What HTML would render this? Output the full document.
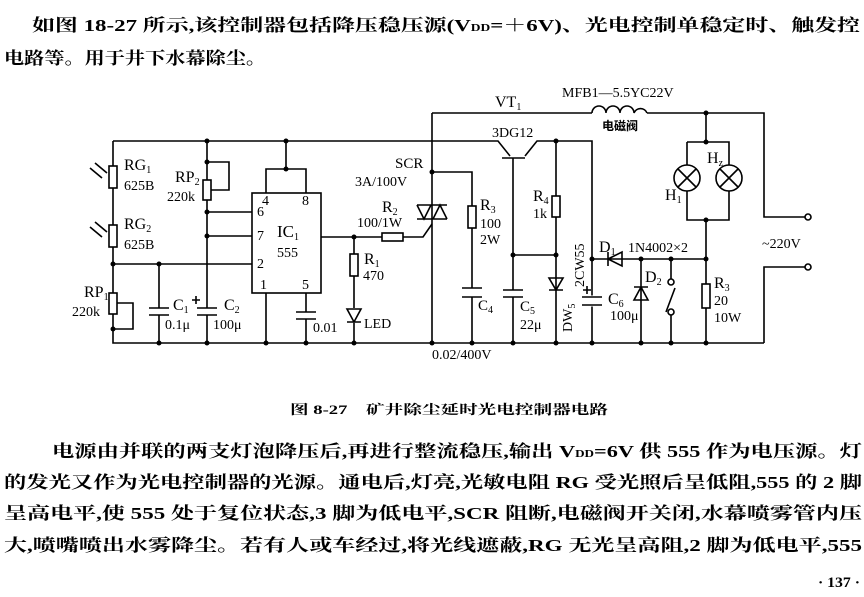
<!DOCTYPE html>
<html><head><meta charset="utf-8"><style>
html,body{margin:0;padding:0;background:#fff}
svg{display:block}
.t{font-family:"Liberation Serif","Noto Serif CJK SC","Noto Sans CJK SC",serif;font-weight:bold;fill:#000}
.l{font-family:"Liberation Serif",serif;font-size:14px;fill:#000}
</style></head><body>
<svg width="864" height="597" viewBox="0 0 864 597" xmlns="http://www.w3.org/2000/svg">
<rect width="864" height="597" fill="#fff"/>
<text class="t" x="32" y="31" font-size="17" textLength="828" lengthAdjust="spacingAndGlyphs">如图 18-27 所示,该控制器包括降压稳压源(V<tspan font-size="10">DD</tspan>=＋6V)、光电控制单稳定时、触发控</text>
<text class="t" x="4" y="64" font-size="17" textLength="262" lengthAdjust="spacingAndGlyphs">电路等。用于井下水幕除尘。</text>
<text class="t" x="290" y="414" font-size="13" textLength="318" lengthAdjust="spacingAndGlyphs">图 8-27　矿井除尘延时光电控制器电路</text>
<text class="t" x="52" y="457" font-size="17" textLength="810" lengthAdjust="spacingAndGlyphs">电源由并联的两支灯泡降压后,再进行整流稳压,输出 V<tspan font-size="10">DD</tspan>=6V 供 555 作为电压源。灯</text>
<text class="t" x="4" y="488" font-size="17" textLength="858" lengthAdjust="spacingAndGlyphs">的发光又作为光电控制器的光源。通电后,灯亮,光敏电阻 RG 受光照后呈低阻,555 的 2 脚</text>
<text class="t" x="4" y="519" font-size="17" textLength="858" lengthAdjust="spacingAndGlyphs">呈高电平,使 555 处于复位状态,3 脚为低电平,SCR 阻断,电磁阀开关闭,水幕喷雾管内压</text>
<text class="t" x="4" y="551" font-size="17" textLength="858" lengthAdjust="spacingAndGlyphs">大,喷嘴喷出水雾降尘。若有人或车经过,将光线遮蔽,RG 无光呈高阻,2 脚为低电平,555</text>
<text class="t" x="818" y="587" font-size="15" textLength="42" lengthAdjust="spacingAndGlyphs">· 137 ·</text>

<g stroke="#000" stroke-width="1.6" fill="none">
<path d="M113,141 H498 L510,156 M525,156 L537,141 H592 V343 M113,141 V343 H764"/>
<path d="M432,113 H592 M647,113 H764 V217 H805 M764,343 V267 H805"/>
<path d="M592,113 a7,7 0 0 1 14,0 a7,7 0 0 1 14,0 a7,7 0 0 1 14,0 a7,7 0 0 1 13,0"/>
<rect x="109" y="166" width="8" height="22" fill="#fff"/>
<rect x="109" y="225" width="8" height="22" fill="#fff"/>
<rect x="109" y="293" width="8" height="21" fill="#fff"/>
<path d="M117,303 H133 V329 H113"/>
<path d="M90,168 l12,10 M95,163 l12,10 M90,227 l12,10 M95,222 l12,10"/>
<path d="M113,264 H252 M159,264 V308 M159,315 V343 M149,308 H169 M149,315 H169"/>
<path d="M207,141 V308 M207,315 V343 M197,308 H217 M197,315 H217 M192,300 h8 M196,296 v8"/>
<rect x="203" y="180" width="8" height="20" fill="#fff"/>
<path d="M207,162 H229 V190 H211"/>
<path d="M207,212 H252 M207,236 H252"/>
<rect x="252" y="193" width="69" height="100"/>
<path d="M266,193 V169 H306 V193 M286,169 V141"/>
<path d="M266,293 V343 M306,293 V312 M306,319 V343 M296,312 H316 M296,319 H316"/>
<path d="M321,237 H382 M403,237 H423 L432,224"/>
<rect x="382" y="233" width="21" height="8" fill="#fff"/>
<path d="M354,237 V254 M354,276 V308 M354,323 V343"/>
<rect x="350" y="254" width="8" height="22" fill="#fff"/>
<path d="M347,309 H361 L354,322 Z M347,322 H361" fill="#fff"/>
<path d="M432,113 V343"/>
<path d="M417,205 H447 M417,219 H447 M417,205 L424,219 L431,205 M433,219 L440,205 L447,219"/>
<path d="M432,172 H472 V206 M472,228 V288 M472,297 V343 M462,288 H482 M462,297 H482"/>
<rect x="468" y="206" width="8" height="22" fill="#fff"/>
<path d="M502,158 H525 M513,158 V290 M513,297 V343 M503,290 H523 M503,297 H523 M513,255 H556"/>
<path d="M556,141 V196 M556,217 V343"/>
<rect x="552" y="196" width="8" height="21" fill="#fff"/>
<path d="M549,278 H563 L556,290 Z M549,290 H563"/>
<path d="M582,297 H602 M582,305 H602 M592,297 V305" stroke="#fff" stroke-width="3"/>
<path d="M582,297 H602 M582,305 H602 M583,290 h8 M587,286 v8"/>
<path d="M592,259 H706 M608,252 V266 M608,259 L622,252 V266 Z"/>
<path d="M641,259 V343 M634,287 H648 M641,287 L634,300 H648 Z"/>
<path d="M671,259 V279 M671,315 V343 M666,312 L675,288"/>
<circle cx="671" cy="282" r="3" fill="#fff"/>
<circle cx="671" cy="312" r="3" fill="#fff"/>
<path d="M706,259 V284 M706,308 V343"/>
<rect x="702" y="284" width="8" height="24" fill="#fff"/>
<path d="M706,113 V142 M687,142 H729 V165 M729,191 V220 H687 V191 M687,165 V142 M706,220 V259"/>
<circle cx="687" cy="178" r="13" fill="#fff"/>
<circle cx="729" cy="178" r="13" fill="#fff"/>
<path d="M678,169 l18,18 M696,169 l-18,18 M720,169 l18,18 M738,169 l-18,18"/>
<circle cx="808" cy="217" r="3" fill="#fff"/>
<circle cx="808" cy="267" r="3" fill="#fff"/>
</g>
<g fill="#000">
<circle cx="207" cy="141" r="2.5"/><circle cx="286" cy="141" r="2.5"/><circle cx="556" cy="141" r="2.5"/>
<circle cx="207" cy="162" r="2.5"/><circle cx="207" cy="212" r="2.5"/><circle cx="207" cy="236" r="2.5"/>
<circle cx="113" cy="264" r="2.5"/><circle cx="159" cy="264" r="2.5"/><circle cx="113" cy="329" r="2.5"/>
<circle cx="286" cy="169" r="2.5"/><circle cx="354" cy="237" r="2.5"/><circle cx="432" cy="172" r="2.5"/>
<circle cx="513" cy="255" r="2.5"/><circle cx="556" cy="255" r="2.5"/><circle cx="592" cy="259" r="2.5"/>
<circle cx="641" cy="259" r="2.5"/><circle cx="671" cy="259" r="2.5"/><circle cx="706" cy="259" r="2.5"/>
<circle cx="706" cy="113" r="2.5"/><circle cx="706" cy="142" r="2.5"/><circle cx="706" cy="220" r="2.5"/>
<circle cx="159" cy="343" r="2.5"/><circle cx="207" cy="343" r="2.5"/><circle cx="266" cy="343" r="2.5"/>
<circle cx="306" cy="343" r="2.5"/><circle cx="354" cy="343" r="2.5"/><circle cx="432" cy="343" r="2.5"/>
<circle cx="472" cy="343" r="2.5"/><circle cx="513" cy="343" r="2.5"/><circle cx="556" cy="343" r="2.5"/>
<circle cx="592" cy="343" r="2.5"/><circle cx="641" cy="343" r="2.5"/><circle cx="671" cy="343" r="2.5"/>
<circle cx="706" cy="343" r="2.5"/>
</g>
<g class="l">
<text x="124" y="170" font-size="16">RG<tspan font-size="10" dy="3">1</tspan></text>
<text x="124" y="190">625B</text>
<text x="124" y="229" font-size="16">RG<tspan font-size="10" dy="3">2</tspan></text>
<text x="124" y="249">625B</text>
<text x="84" y="297" font-size="16">RP<tspan font-size="10" dy="3">1</tspan></text>
<text x="72" y="316">220k</text>
<text x="175" y="182" font-size="16">RP<tspan font-size="10" dy="3">2</tspan></text>
<text x="167" y="201">220k</text>
<text x="262" y="205">4</text><text x="302" y="205">8</text>
<text x="257" y="216">6</text><text x="257" y="240">7</text><text x="257" y="268">2</text>
<text x="260" y="289">1</text><text x="302" y="289">5</text>
<text x="277" y="237" font-size="17">IC<tspan font-size="10" dy="3">1</tspan></text>
<text x="277" y="257">555</text>
<text x="173" y="310" font-size="16">C<tspan font-size="10" dy="3">1</tspan></text>
<text x="165" y="329">0.1μ</text>
<text x="224" y="310" font-size="16">C<tspan font-size="10" dy="3">2</tspan></text>
<text x="213" y="329">100μ</text>
<text x="313" y="332">0.01</text>
<text x="364" y="328">LED</text>
<text x="364" y="264" font-size="16">R<tspan font-size="10" dy="3">1</tspan></text>
<text x="363" y="280">470</text>
<text x="382" y="212" font-size="16">R<tspan font-size="10" dy="3">2</tspan></text>
<text x="357" y="227">100/1W</text>
<text x="395" y="168" font-size="15">SCR</text>
<text x="355" y="186">3A/100V</text>
<text x="480" y="210" font-size="16">R<tspan font-size="10" dy="3">3</tspan></text>
<text x="480" y="228">100</text>
<text x="480" y="244">2W</text>
<text x="478" y="310" font-size="15">C<tspan font-size="10" dy="3">4</tspan></text>
<text x="520" y="311" font-size="15">C<tspan font-size="10" dy="3">5</tspan></text>
<text x="520" y="329">22μ</text>
<text x="533" y="201" font-size="16">R<tspan font-size="10" dy="3">4</tspan></text>
<text x="533" y="218">1k</text>
<text x="492" y="137">3DG12</text>
<text x="495" y="107" font-size="16">VT<tspan font-size="10" dy="3">1</tspan></text>
<text x="562" y="97">MFB1—5.5YC22V</text>
<text x="602" y="130" font-family="Noto Sans CJK SC,sans-serif" font-weight="bold" font-size="12">电磁阀</text>
<text x="432" y="359">0.02/400V</text>
<text x="610" y="320">100μ</text>
<text x="608" y="304" font-size="16">C<tspan font-size="10" dy="3">6</tspan></text>
<text x="599" y="252" font-size="16">D<tspan font-size="10" dy="3">1</tspan></text>
<text x="628" y="252">1N4002×2</text>
<text x="645" y="282" font-size="16">D<tspan font-size="10" dy="3">2</tspan></text>
<text x="714" y="288" font-size="16">R<tspan font-size="10" dy="3">3</tspan></text>
<text x="714" y="305">20</text>
<text x="714" y="322">10W</text>
<text x="707" y="163" font-size="16">H<tspan font-size="10" dy="3">z</tspan></text>
<text x="665" y="200" font-size="16">H<tspan font-size="10" dy="3">1</tspan></text>
<text x="762" y="248">~220V</text>
<text transform="translate(584,287) rotate(-90)">2CW55</text>
<text transform="translate(572,332) rotate(-90)">DW<tspan font-size="10" dy="3">5</tspan></text>
</g>
</svg>
</body></html>
